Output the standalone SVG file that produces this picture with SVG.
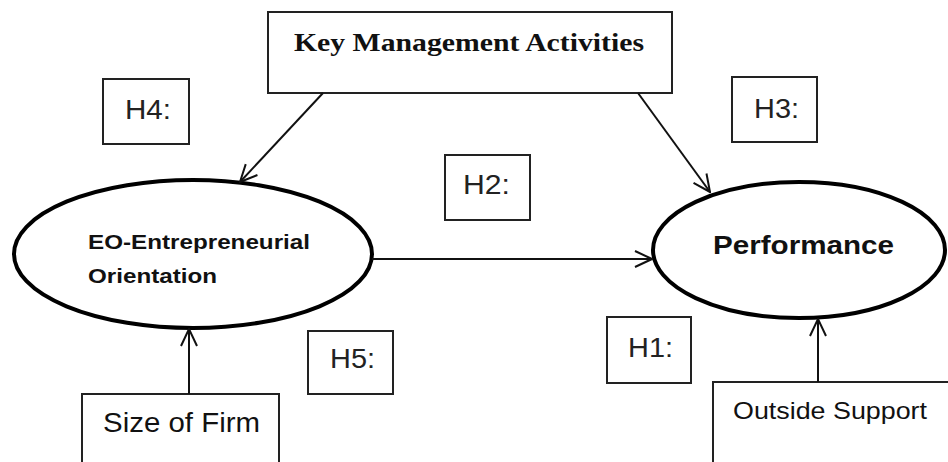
<svg xmlns="http://www.w3.org/2000/svg" width="948" height="462" viewBox="0 0 948 462">
<defs>
<style>
.box{fill:#fff;stroke:#222;stroke-width:2}
.ell{fill:#fff;stroke:#000;stroke-width:4}
.con{stroke:#111;stroke-width:2;fill:none}
.h{font-family:"Liberation Sans",Arial,sans-serif;font-size:28px;fill:#222}
.lbl{font-family:"Liberation Sans",Arial,sans-serif;fill:#111}
</style>
<marker id="arr" viewBox="0 0 20 20" refX="19" refY="10" markerWidth="20" markerHeight="20" markerUnits="userSpaceOnUse" orient="auto">
<path d="M2,2 L19,10 L2,18" fill="none" stroke="#111" stroke-width="2"/>
</marker>
</defs>
<rect width="948" height="462" fill="#fff"/>
<g id="kma"><rect class="box" x="268" y="12" width="404" height="81"/>
<text x="294" y="51" font-family="'Liberation Serif','Times New Roman',serif" font-weight="bold" font-size="26" fill="#111" textLength="350" lengthAdjust="spacingAndGlyphs">Key Management Activities</text></g>
<g id="h4"><rect class="box" x="103" y="79" width="86" height="65"/><text class="h" x="125" y="119" textLength="46" lengthAdjust="spacingAndGlyphs">H4:</text></g>
<g id="h3"><rect class="box" x="732" y="77" width="85" height="65"/><text class="h" x="754" y="118" textLength="45" lengthAdjust="spacingAndGlyphs">H3:</text></g>
<g id="h2"><rect class="box" x="445" y="155" width="85" height="65"/><text class="h" x="463" y="194" textLength="47" lengthAdjust="spacingAndGlyphs">H2:</text></g>
<g id="h5"><rect class="box" x="308" y="331" width="85" height="63"/><text class="h" x="330" y="368" textLength="45" lengthAdjust="spacingAndGlyphs">H5:</text></g>
<g id="h1"><rect class="box" x="607" y="317" width="84" height="66"/><text class="h" x="628" y="357" textLength="45" lengthAdjust="spacingAndGlyphs">H1:</text></g>
<g id="eo"><ellipse class="ell" cx="193" cy="254" rx="179" ry="74"/>
<text class="lbl" x="88" y="249" font-size="21" font-weight="bold" textLength="222" lengthAdjust="spacingAndGlyphs">EO-Entrepreneurial</text>
<text class="lbl" x="88" y="283" font-size="21" font-weight="bold" textLength="129" lengthAdjust="spacingAndGlyphs">Orientation</text></g>
<g id="perf"><ellipse class="ell" cx="799" cy="250" rx="146" ry="68"/>
<text class="lbl" x="713" y="254" font-size="26" font-weight="bold" textLength="181" lengthAdjust="spacingAndGlyphs">Performance</text></g>
<g id="size"><rect class="box" x="82" y="394" width="197" height="80"/>
<text class="lbl" x="103" y="432" font-size="27" textLength="157" lengthAdjust="spacingAndGlyphs">Size of Firm</text></g>
<g id="outside"><rect class="box" x="713" y="382" width="250" height="90"/>
<text class="lbl" x="733" y="419" font-size="24" fill="#333" textLength="194" lengthAdjust="spacingAndGlyphs">Outside Support</text></g>
<g id="connectors">
<line class="con" x1="323" y1="93" x2="240" y2="182" marker-end="url(#arr)"/>
<line class="con" x1="638" y1="93" x2="710" y2="192" marker-end="url(#arr)"/>
<line class="con" x1="372" y1="259" x2="652" y2="259" marker-end="url(#arr)"/>
<line class="con" x1="189" y1="394" x2="189" y2="329" marker-end="url(#arr)"/>
<line class="con" x1="818" y1="382" x2="818" y2="319" marker-end="url(#arr)"/>
</g>
</svg>
